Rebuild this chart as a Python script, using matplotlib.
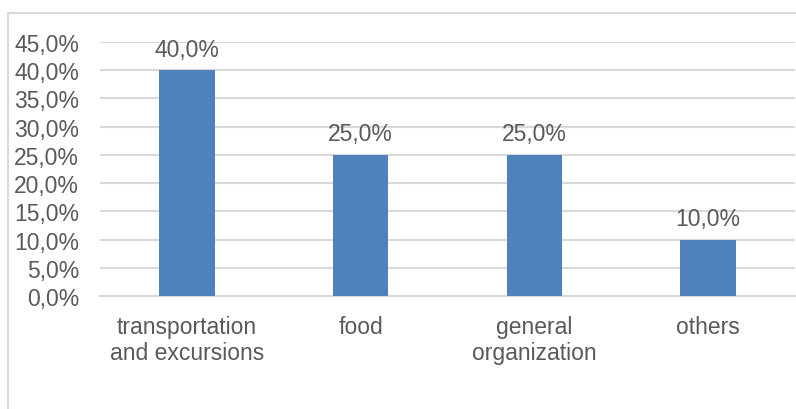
import matplotlib.pyplot as plt
from matplotlib.lines import Line2D

categories = ["transportation\nand excursions", "food", "general\norganization", "others"]
shares = [40.0, 25.0, 25.0, 10.0]
yticks = [0, 5, 10, 15, 20, 25, 30, 35, 40, 45]

def pct(v):
    return f"{v:.1f}%".replace(".", ",")

def main():
    plt.rcParams['font.family'] = ['Liberation Sans', 'DejaVu Sans']
    text_color = '#595959'
    grid_color = '#d9d9d9'
    fsize = 16.5

    fig = plt.figure(figsize=(7.96, 4.10), dpi=100)
    ax = fig.add_axes([100 / 796, 1 - 297 / 410, 695 / 796, 254 / 410])

    x = range(len(categories))
    ax.bar(x, shares, width=0.32, color='#4f81bd', zorder=3)
    for xi, v in zip(x, shares):
        ax.annotate(pct(v), (xi, v), xytext=(0, 7), textcoords='offset points',
                    ha='center', va='bottom', fontsize=fsize, color=text_color)

    ax.set_xlim(-0.5, len(categories) - 0.5)
    ax.set_ylim(0, 45)
    ax.set_yticks(yticks)
    ax.set_yticklabels([pct(v) for v in yticks])
    ax.set_xticks(list(x))
    ax.set_xticklabels(categories, linespacing=1.15)
    ax.tick_params(axis='both', length=0, colors=text_color, labelsize=fsize)
    ax.tick_params(axis='y', pad=15)
    ax.tick_params(axis='x', pad=14)
    ax.yaxis.grid(True, color=grid_color, linewidth=1.5, zorder=0)
    for side in ['top', 'right', 'left']:
        ax.spines[side].set_visible(False)
    ax.spines['bottom'].set_color(grid_color)
    ax.spines['bottom'].set_linewidth(1.5)

    # chart frame
    fig.add_artist(Line2D([8 / 796, 8 / 796], [0, 1 - 14 / 410], color=grid_color, linewidth=1.5))
    fig.add_artist(Line2D([8 / 796, 1], [1 - 14 / 410, 1 - 14 / 410], color=grid_color, linewidth=1.5))

    fig.savefig('out.png', dpi=100)

if __name__ == "__main__":
    main()
